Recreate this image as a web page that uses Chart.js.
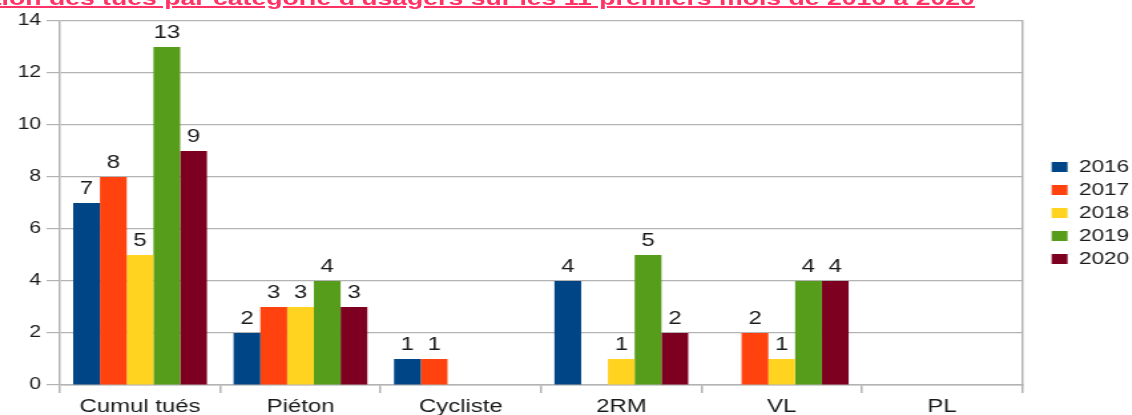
<!DOCTYPE html>
<html>
<head>
<meta charset="utf-8">
<script src="https://cdn.jsdelivr.net/npm/chart.js@4/dist/chart.umd.min.js"></script>
<style>
  html, body { margin: 0; padding: 0; background: #fff; overflow: hidden; }
  #wrap {
    position: absolute; left: 0; top: 0;
    width: 851px; height: 415px;
    transform: scaleX(1.33); transform-origin: 0 0;
  }
  #title {
    position: absolute; right: 118px; top: -12px;
    font: bold 20px 'Liberation Sans', Arial, sans-serif;
    line-height: 20px;
    color: #ff3366;
    text-decoration: underline;
    white-space: nowrap;
    z-index: 2;
  }
  #box { position: absolute; left: 0; top: 0; width: 851px; height: 415px; }
</style>
</head>
<body>
<div id="wrap">
  <div id="title">Évolution des tués par catégorie d'usagers sur les 11 premiers mois de 2016 à 2020</div>
  <div id="box"><canvas id="chart"></canvas></div>
</div>
<script>
// categories and yearly values (null = no bar drawn)
const categories = ['Cumul tués', 'Piéton', 'Cycliste', '2RM', 'VL', 'PL'];
const years = ['2016', '2017', '2018', '2019', '2020'];
const values2016 = [7, 2, 1, 4, null, null];
const values2017 = [8, 3, 1, null, 2, null];
const values2018 = [5, 3, null, 1, 1, null];
const values2019 = [13, 4, null, 5, 4, null];
const values2020 = [9, 3, null, 2, 4, null];
const yTicks = [0, 2, 4, 6, 8, 10, 12, 14];

const colors = ['#004586', '#ff420e', '#ffd320', '#579d1c', '#7e0021'];
const series = [values2016, values2017, values2018, values2019, values2020];

const FONT = "'Liberation Sans', Arial, sans-serif";
const GRID = '#b3b3b3';
const TEXT = '#1a1a1a';

// draws the value above each bar
const valueLabels = {
  id: 'valueLabels',
  afterDatasetsDraw(chart) {
    const ctx = chart.ctx;
    ctx.save();
    ctx.font = '18px ' + FONT;
    ctx.fillStyle = TEXT;
    ctx.textAlign = 'center';
    ctx.textBaseline = 'alphabetic';
    chart.data.datasets.forEach((ds, i) => {
      const meta = chart.getDatasetMeta(i);
      meta.data.forEach((bar, j) => {
        const v = ds.data[j];
        if (v === null || v === undefined) return;
        ctx.fillText(String(v), bar.x, bar.y - 9);
      });
    });
    ctx.restore();
  }
};

new Chart(document.getElementById('chart'), {
  type: 'bar',
  data: {
    labels: categories,
    datasets: years.map((y, i) => ({
      label: y,
      data: series[i],
      backgroundColor: colors[i],
      borderWidth: 0,
      categoryPercentage: 0.834,
      barPercentage: 1
    }))
  },
  options: {
    responsive: true,
    maintainAspectRatio: false,
    animation: false,
    layout: { padding: { top: 21, right: -8, bottom: 0, left: 0 } },
    plugins: {
      tooltip: { enabled: false },
      legend: {
        position: 'right',
        align: 'center',
        fullSize: false,
        title: { display: true, text: ' ', font: { size: 10 }, padding: 4 },
        labels: {
          boxWidth: 12,
          boxHeight: 10,
          padding: 6,
          color: TEXT,
          font: { family: FONT, size: 17 }
        }
      }
    },
    scales: {
      x: {
        offset: true,
        afterFit: s => { s.height = 30; },
        grid: {
          offset: true,
          drawOnChartArea: false,
          tickLength: 8,
          color: GRID,
          lineWidth: 1.5
        },
        border: { color: GRID, width: 1.5 },
        ticks: {
          color: TEXT,
          padding: 3,
          font: { family: FONT, size: 18 },
          maxRotation: 0
        }
      },
      y: {
        min: 0,
        max: 14,
        afterFit: s => { s.width = 45; },
        afterBuildTicks: s => { s.ticks = yTicks.map(v => ({ value: v })); },
        grid: { color: GRID, lineWidth: 1.2, tickLength: 10 },
        border: { color: GRID, width: 1.5 },
        ticks: {
          color: TEXT,
          padding: 4,
          font: { family: FONT, size: 16 }
        }
      },
      y2: {
        position: 'right',
        display: true,
        afterFit: s => { s.width = 16; },
        grid: { drawOnChartArea: false, drawTicks: false },
        border: { color: GRID, width: 1.5 },
        ticks: { display: false }
      }
    }
  },
  plugins: [valueLabels]
});
</script>
</body>
</html>
